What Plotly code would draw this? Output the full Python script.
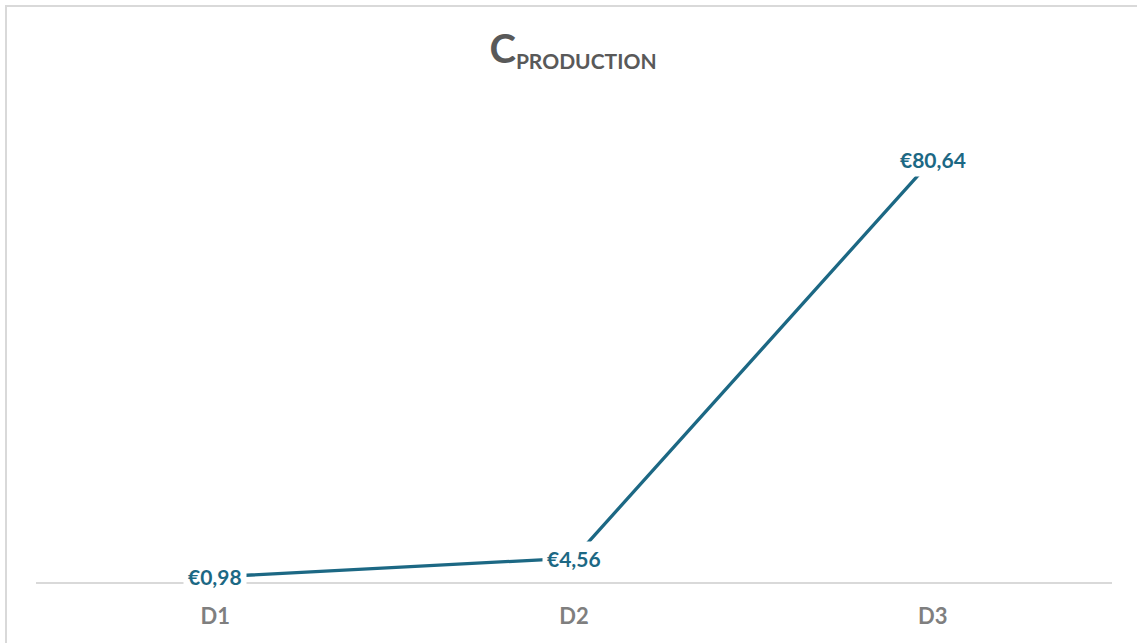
import plotly.graph_objects as go

categories = ["D1", "D2", "D3"]
values = [0.98, 4.56, 80.64]
labels = ["€0,98", "€4,56", "€80,64"]

LINE = "#1c6884"
W, H = 1137, 643
L, R, T, B = 36, 25, 110, 61
pw, ph = W - L - R, H - T - B

fig = go.Figure()
fig.add_trace(go.Scatter(
    x=categories, y=values, mode="lines",
    line=dict(color=LINE, width=3.3),
    hoverinfo="skip", showlegend=False,
))

for c, v, t in zip(categories, values, labels):
    fig.add_annotation(
        x=c, y=v, xref="x", yref="y", text=f"<b>{t}</b>",
        showarrow=False, bgcolor="white", borderpad=4,
        font=dict(family="Lato, Open Sans, sans-serif", size=21, color=LINE),
        xanchor="center", yanchor="middle",
    )

# chart border
def px_x(p):
    return (p - L) / pw

def px_y(p):
    return 1 - (p - T) / ph

fig.add_shape(type="rect", xref="paper", yref="paper",
              x0=px_x(6), x1=px_x(1150), y0=px_y(660), y1=px_y(6),
              line=dict(color="#d9d9d9", width=2), layer="below")

fig.update_layout(
    width=W, height=H,
    margin=dict(l=L, r=R, t=T, b=B),
    paper_bgcolor="white", plot_bgcolor="white",
    title=dict(
        text='<span style="font-size:40px">C</span><sub>PRODUCTION</sub>',
        x=573 / W, xanchor="center", y=1 - 52 / H, yanchor="middle",
        font=dict(family="Lato, Open Sans, sans-serif", size=30, color="#595959", weight="bold"),
    ),
    xaxis=dict(
        type="category", range=[-0.5, 2.5], showgrid=False, zeroline=False,
        showline=True, linecolor="#d9d9d9", linewidth=2,
        ticks="", ticklabelstandoff=14,
        tickfont=dict(family="Lato, Open Sans, sans-serif", size=22, color="#7f7f7f", weight="bold"),
    ),
    yaxis=dict(range=[0, 90], visible=False, showgrid=False, zeroline=False),
    hovermode=False,
)

fig.write_html("out.html")
